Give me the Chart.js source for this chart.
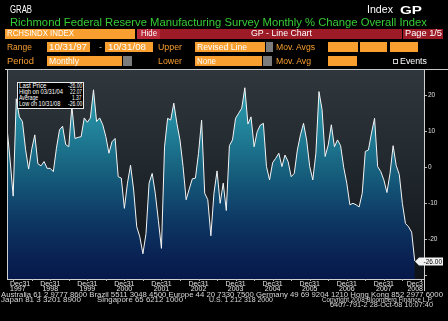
<!DOCTYPE html>
<html>
<head>
<meta charset="utf-8">
<script src="https://cdn.jsdelivr.net/npm/chart.js@4.4.0/dist/chart.umd.min.js"></script>
<style>
  html, body { margin: 0; padding: 0; background: #000; }
  #wrap { position: relative; width: 448px; height: 321px; overflow: hidden; background: #000;
          font-family: "Liberation Sans", Arial, sans-serif; }
  #chart { position: absolute; left: 0; top: 0; }
  .t { position: absolute; white-space: nowrap; line-height: 1; transform-origin: 0 0; }
  .b { position: absolute; box-sizing: border-box; }
</style>
</head>
<body>
<div id="wrap">
  <canvas id="chart" width="448" height="321"></canvas>
</div>
<script>
// monthly values, 10/31/97 .. 10/31/08
const values = [
  11, 2, -8, 19, 14, 12.7, 5, -0.5, 5, 9,
  1, 0.4, 1.6, -0.3, -0.3, -1.2, 5.3, 10.4, 11.4, 6.3,
  5.7, 17, 8, 8.3, 8.5, 13.7, 12.5, 13.7, 21.5, 12.7,
  13.7, 11.8, 8.5, 3.9, 7.1, 8, -2.6, -3, -11.4, -4.4,
  0.6, -6.3, -16.5, -19.3, -24, -18.4, -4.4, -1.7, -7.2, -14.7,
  -22.5, 5.7, 13.6, 13.1, 17.8, 12.2, 7.6, 0.2, -9, -6,
  -3.2, -3, 3.9, 13.1, -7.2, -9, -19, -7.2, -1, -10,
  -4.4, -12, 6, 7.6, 13.6, 15, 16.4, 22.07, 12, 14,
  5.7, 9.9, 11.7, 12.2, 0.2, -3.5, 1.3, 2.5, 3.9, 0.2,
  3.4, 1.6, -2.6, -1.7, 4.8, 9, 12.2, 7.6, 0.2, -3.5,
  3.9, 21, 16, 3, 6.2, 11.8, 5.7, 7.6, 6, 0,
  -4.4, -10.4, -10, -10.4, -11, -7.2, 4.4, 4.8, 9.5, 13.6,
  0.2, -1.2, -3.5, -7, -1.7, 6, 0.5, -2, -10, -15.6,
  -16.5, -18, -26
];
// x ticks: month offset from 10/97
const xTickMonth = [2, 14, 26, 38, 50, 62, 74, 86, 98, 110, 122, 134];
const xMidMonth = [8, 20, 32, 44, 56, 68, 80, 92, 104, 116, 128];
const xTickTop = ['Dec31', 'Dec31', 'Dec31', 'Dec31', 'Dec31', 'Dec31', 'Dec31', 'Dec31', 'Dec31', 'Dec31', 'Dec31', 'Dec3'];
const xTickYear = ['1997', '1998', '1999', '2000', '2001', '2002', '2003', '2004', '2005', '2006', '2007', '2008'];
const yTicks = [-30, -20, -10, 0, 10, 20];
const yTickLabels = ['', '-20', '-10', '0', '10', '20'];
const legendRows = [
  ['Last Price', '-26.00'],
  ['High on 03/31/04', '22.07'],
  ['Average', '1.37'],
  ['Low on 10/31/08', '-26.00']
];

const wrap = document.getElementById('wrap');
const ORANGE = '#f99f30';
const RED = '#9c1b27';

function box(x, y, w, h, bg, border) {
  const d = document.createElement('div');
  d.className = 'b';
  d.style.cssText = `left:${x}px;top:${y}px;width:${w}px;height:${h}px;background:${bg};` +
    (border ? `border:1px solid ${border};` : '');
  wrap.appendChild(d);
  return d;
}
function text(str, x, capTop, w, size, color, bold) {
  const d = document.createElement('div');
  d.className = 't';
  d.textContent = str;
  d.style.cssText = `left:${x}px;top:${capTop - 0.16 * size}px;font-size:${size}px;color:${color};` +
    (bold ? 'font-weight:bold;' : '');
  d.dataset.w = w;
  wrap.appendChild(d);
}

// header
text('GRAB', 10, 7, 22, 10, '#fff');
text('Index', 367, 7, 26, 10, '#fff');
text('GP', 400, 6.5, 22, 11, '#fff', true);
text('Richmond Federal Reserve Manufacturing Survey Monthly % Change Overall Index', 10, 18.5, 417, 10.5, '#35cc35');

box(5, 29, 130, 10, ORANGE);
text('RCHSINDX INDEX', 7, 30.8, 67, 8.5, '#fff');
box(137, 29, 265, 10, RED);
box(137, 29, 23, 10, '#b82a3a');
text('Hide', 141, 30.8, 16, 8.5, '#fff');
text('GP - Line Chart', 251, 30.8, 61, 8.5, '#fff');
box(403, 29, 40, 10, RED);
text('Page 1/5', 405, 30.8, 37, 8.5, '#fff');

text('Range', 7, 44.5, 25, 8.5, ORANGE);
box(47, 42, 43, 10, ORANGE);
text('10/31/97', 49, 44.3, 38, 8.5, '#fff');
text('-', 99, 44.3, 3, 8.5, '#bbb');
box(105, 42, 48, 10, ORANGE);
text('10/31/08', 108, 44.3, 38, 8.5, '#fff');
text('Upper', 158, 44.5, 24, 8.5, ORANGE);
box(195, 42, 70, 10, ORANGE);
text('Revised Line', 197, 44.3, 50, 8.5, '#fff');
box(266, 42, 7, 10, '#7c7c7c');
text('Mov. Avgs', 276, 44.5, 39, 8.5, ORANGE);
box(328, 42, 30, 10, ORANGE);
box(360, 42, 27, 10, ORANGE);
box(390, 42, 28, 10, ORANGE);

text('Period', 7, 58.3, 27, 8.5, ORANGE);
box(47, 56, 75, 10, ORANGE);
text('Monthly', 49, 58.3, 30, 8.5, '#fff');
box(123, 56, 9, 10, '#7c7c7c');
text('Lower', 158, 58.3, 24, 8.5, ORANGE);
box(195, 56, 67, 10, ORANGE);
text('None', 197, 58.3, 19, 8.5, '#fff');
box(263, 56, 9, 10, '#7c7c7c');
text('Mov. Avg', 276, 58.3, 35, 8.5, ORANGE);
box(328, 56, 29, 10, ORANGE);
box(393, 59, 5, 5, '#000', '#ccc');
text('Events', 400, 58.3, 27, 8.5, '#fff');

box(5, 69, 443, 1, '#c8c8c8');

// legend box
box(17, 82, 67, 27, '#000', '#e8e8e8');
legendRows.forEach((r, k) => {
  const cap = 84 + k * 5.9;
  text(r[0], 19, cap, r[0].length * 2.75, 6.3, '#fff');
  text(r[1], 82 - r[1].length * 2.4, cap, r[1].length * 2.4, 6.3, '#fff');
});

// footer
text('Australia 61 2 9777 8600 Brazil 5511 3048 4500 Europe 44 20 7330 7500 Germany 49 69 9204 1210 Hong Kong 852 2977 6000', 1, 293, 442, 6.5, '#d8d8d8');
text('Japan 81 3 3201 8900', 1, 298.3, 80, 6.5, '#d8d8d8');
text('Singapore 65 6212 1000', 97, 298.3, 86, 6.5, '#d8d8d8');
text('U.S. 1 212 318 2000', 209, 298.3, 64, 6.5, '#d8d8d8');
text('Copyright 2008 Bloomberg Finance L.P.', 322, 298.3, 111, 6.5, '#d8d8d8');
text('6407-791-2 28-Oct-08 10:07:40', 330, 303.3, 103, 6.5, '#d8d8d8');

document.querySelectorAll('.t').forEach(el => {
  const w = +el.dataset.w;
  const nat = el.getBoundingClientRect().width;
  if (w && nat) el.style.transform = 'scaleX(' + (w / nat) + ')';
});

const bbg = {
  id: 'bbg',
  beforeDraw(chart) {
    const { ctx, chartArea: a } = chart;
    const g = ctx.createLinearGradient(0, a.top, 0, a.bottom);
    g.addColorStop(0, '#2f373d');
    g.addColorStop(0.4, '#232a30');
    g.addColorStop(0.65, '#1a2025');
    g.addColorStop(1, '#0f1317');
    ctx.save();
    ctx.fillStyle = g;
    ctx.fillRect(a.left, a.top, a.right - a.left, a.bottom - a.top);
    ctx.restore();
  },
  afterDraw(chart) {
    const { ctx, chartArea: a, scales: { x, y } } = chart;
    ctx.save();
    ctx.strokeStyle = '#d0d0d0';
    ctx.lineWidth = 1;
    ctx.beginPath();
    ctx.moveTo(a.left + 0.5, a.top - 1);
    ctx.lineTo(a.left + 0.5, a.bottom);
    ctx.moveTo(a.right + 0.5, a.bottom);
    ctx.lineTo(a.right + 0.5, a.bottom + 12);
    ctx.stroke();

    // x ticks + labels
    ctx.strokeStyle = '#bbb';
    ctx.beginPath();
    xTickMonth.concat(xMidMonth).forEach(m => {
      const px = Math.round(x.getPixelForValue(m)) + 0.5;
      if (px > a.right) return;
      ctx.moveTo(px, a.bottom);
      ctx.lineTo(px, a.bottom + 2);
    });
    ctx.stroke();
    ctx.font = "7px 'Liberation Sans'";
    ctx.fillStyle = '#e4e4e4';
    ctx.textBaseline = 'alphabetic';
    xTickMonth.forEach((m, k) => {
      const px = x.getPixelForValue(m);
      [[xTickTop[k], a.bottom + 6.5], [xTickYear[k], a.bottom + 12]].forEach(([s, by]) => {
        const w = ctx.measureText(s).width;
        let lx = px - w / 2;
        lx = Math.max(a.left + 3, Math.min(a.right - 1 - w, lx));
        ctx.fillText(s, lx, by);
      });
    });

    // last value tag
    const last = values[values.length - 1];
    const ty = Math.round(y.getPixelForValue(last)) + 0.5;
    ctx.fillStyle = '#f2f2f2';
    ctx.beginPath();
    ctx.moveTo(a.right - 9, ty);
    ctx.lineTo(a.right - 5, ty - 4);
    ctx.lineTo(a.right + 19, ty - 4);
    ctx.lineTo(a.right + 19, ty + 4);
    ctx.lineTo(a.right - 5, ty + 4);
    ctx.closePath();
    ctx.fill();
    ctx.fillStyle = '#000';
    ctx.font = "6.5px 'Liberation Sans'";
    ctx.textBaseline = 'middle';
    ctx.textAlign = 'right';
    ctx.fillText(last.toFixed(2), a.right + 18, ty + 0.5);
    ctx.restore();
  }
};

new Chart(document.getElementById('chart'), {
  type: 'line',
  data: {
    datasets: [{
      data: values.map((v, i) => ({ x: i, y: v })),
      borderColor: '#f4f4f4',
      borderWidth: 1,
      pointRadius: 0,
      tension: 0,
      fill: 'start',
      backgroundColor(c) {
        const a = c.chart.chartArea;
        if (!a) return '#17607f';
        const g = c.chart.ctx.createLinearGradient(0, a.top, 0, a.bottom);
        g.addColorStop(0, '#31a9b6');
        g.addColorStop(0.25, '#23879d');
        g.addColorStop(0.47, '#17627f');
        g.addColorStop(0.7, '#0e3b66');
        g.addColorStop(0.86, '#0a2656');
        g.addColorStop(1, '#06184a');
        return g;
      }
    }]
  },
  options: {
    responsive: false,
    animation: false,
    devicePixelRatio: 1,
    layout: { padding: { left: 7, top: 70, right: 0, bottom: 0 } },
    plugins: { legend: { display: false }, tooltip: { enabled: false } },
    scales: {
      x: {
        type: 'linear', min: 0, max: 135,
        ticks: { display: false },
        grid: { display: false },
        border: { display: true, color: '#d0d0d0' },
        afterFit(axis) { axis.height = 42; }
      },
      y: {
        position: 'right', min: -31, max: 27,
        afterBuildTicks(axis) { axis.ticks = yTicks.map(v => ({ value: v })); },
        ticks: {
          color: '#e0e0e0', padding: 1,
          font: { family: 'Liberation Sans', size: 6.5 },
          callback: (v) => yTickLabels[yTicks.indexOf(v)]
        },
        grid: { drawOnChartArea: false, drawTicks: true, tickLength: 3, color: '#bbb' },
        border: { display: true, color: '#d0d0d0' },
        afterFit(axis) { axis.width = 24; }
      }
    }
  },
  plugins: [bbg]
});
</script>
</body>
</html>
